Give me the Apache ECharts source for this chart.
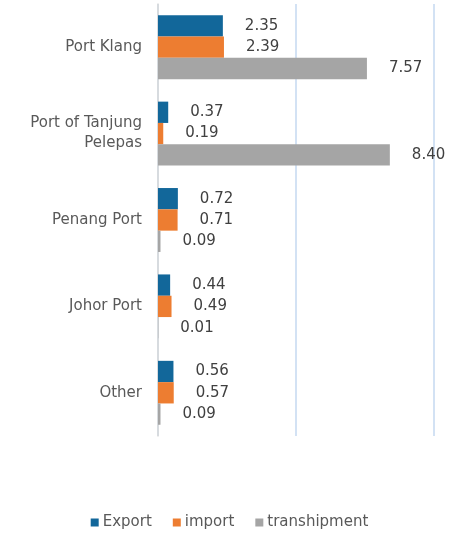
<!DOCTYPE html>
<html>
<head>
<meta charset="utf-8">
<script src="https://cdn.jsdelivr.net/npm/echarts@6/dist/echarts.min.js"></script>
<style>
    html, body { margin: 0; padding: 0; background: #fff; }
    #main { width: 459px; height: 536px; }
</style>
</head>
<body>
<div id="main"></div>
<script>
// 港口名称
let ports = ['Port Klang', 'Port of Tanjung\nPelepas', 'Penang Port', 'Johor Port', 'Other'];
// 各系列数据
let exportData = [2.35, 0.37, 0.72, 0.44, 0.56];
let importData = [2.39, 0.19, 0.71, 0.49, 0.57];
let transData = [7.57, 8.40, 0.09, 0.01, 0.09];

let font = 'DejaVu Sans';

function barSeries(name, data, color) {
    return {
        name: name,
        type: 'bar',
        data: data,
        barGap: '0%',
        barCategoryGap: '26%',
        itemStyle: {
            color: color
        },
        label: {
            show: true,
            position: 'right',
            distance: 22,
            color: '#404040',
            fontSize: 15,
            fontFamily: font,
            formatter: p => p.value.toFixed(2)
        }
    };
}

let myChart = echarts.init(document.getElementById('main'));
let option = {
    animation: false,
    grid: {
        left: 158,
        right: 25,
        top: 4,
        bottom: 100
    },
    legend: {
        bottom: 1,
        left: 'center',
        icon: 'rect',
        itemWidth: 8,
        itemHeight: 8,
        itemGap: 21,
        textStyle: {
            color: '#595959',
            fontSize: 15,
            fontFamily: font,
            padding: [0, 0, 0, -1]
        },
        data: ['Export', 'import', 'transhipment']
    },
    xAxis: {
        type: 'value',
        min: 0,
        max: 10,
        interval: 5,
        axisLabel: { show: false },
        axisLine: { show: false },
        axisTick: { show: false },
        splitLine: {
            show: true,
            lineStyle: {
                color: '#c5d9f1',
                width: 1.5
            }
        }
    },
    yAxis: {
        type: 'category',
        inverse: true,
        data: ports,
        axisTick: { show: false },
        axisLine: {
            show: true,
            lineStyle: {
                color: '#d9d9d9',
                width: 1.5
            }
        },
        axisLabel: {
            color: '#595959',
            fontSize: 15,
            fontFamily: font,
            margin: 16,
            lineHeight: 20,
            align: 'right'
        }
    },
    series: [
        barSeries('Export', exportData, '#12679a'),
        barSeries('import', importData, '#ed7d31'),
        barSeries('transhipment', transData, '#a5a5a5')
    ]
};
myChart.setOption(option);
</script>
</body>
</html>
